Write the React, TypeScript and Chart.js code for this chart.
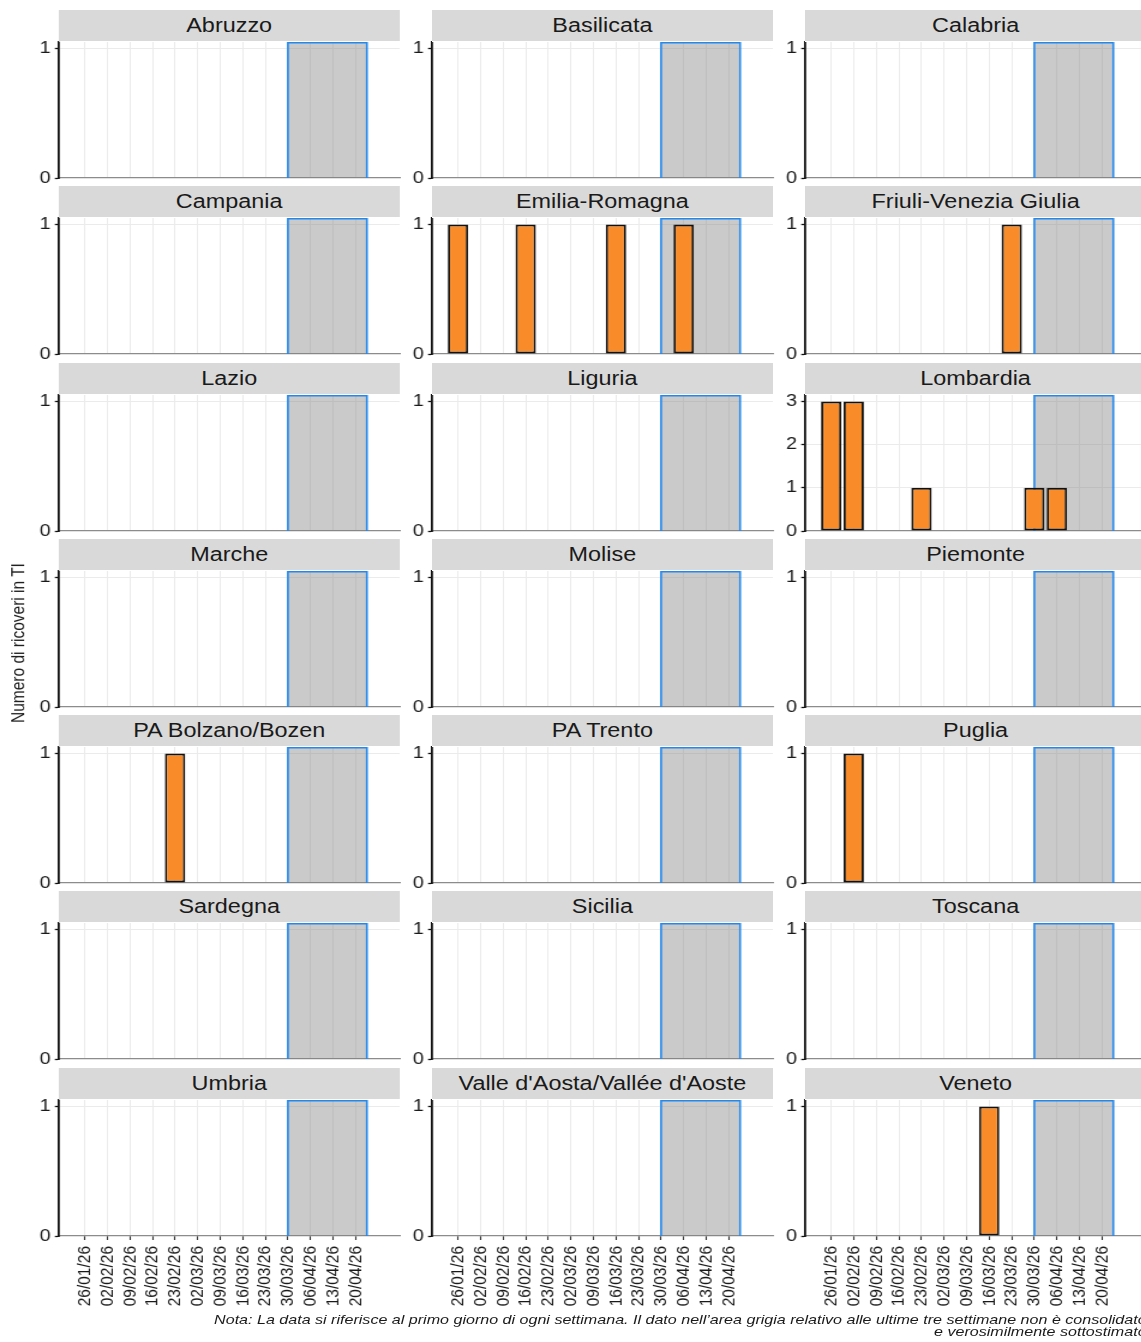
import React, { useEffect, useRef } from 'react';
import { Chart, registerables } from 'chart.js';

Chart.register(...registerables);

// ---------------- data ----------------
const weekLabels = [
  '26/01/26', '02/02/26', '09/02/26', '16/02/26', '23/02/26', '02/03/26', '09/03/26',
  '16/03/26', '23/03/26', '30/03/26', '06/04/26', '13/04/26', '20/04/26',
];

const regionNames = [
  'Abruzzo', 'Basilicata', 'Calabria',
  'Campania', 'Emilia-Romagna', 'Friuli-Venezia Giulia',
  'Lazio', 'Liguria', 'Lombardia',
  'Marche', 'Molise', 'Piemonte',
  'PA Bolzano/Bozen', 'PA Trento', 'Puglia',
  'Sardegna', 'Sicilia', 'Toscana',
  'Umbria', "Valle d'Aosta/Vallée d'Aoste", 'Veneto',
];

const abruzzo = [0, 0, 0, 0, 0, 0, 0, 0, 0, 0, 0, 0, 0];
const basilicata = [0, 0, 0, 0, 0, 0, 0, 0, 0, 0, 0, 0, 0];
const calabria = [0, 0, 0, 0, 0, 0, 0, 0, 0, 0, 0, 0, 0];
const campania = [0, 0, 0, 0, 0, 0, 0, 0, 0, 0, 0, 0, 0];
const emiliaRomagna = [1, 0, 0, 1, 0, 0, 0, 1, 0, 0, 1, 0, 0];
const friuliVeneziaGiulia = [0, 0, 0, 0, 0, 0, 0, 0, 1, 0, 0, 0, 0];
const lazio = [0, 0, 0, 0, 0, 0, 0, 0, 0, 0, 0, 0, 0];
const liguria = [0, 0, 0, 0, 0, 0, 0, 0, 0, 0, 0, 0, 0];
const lombardia = [3, 3, 0, 0, 1, 0, 0, 0, 0, 1, 1, 0, 0];
const marche = [0, 0, 0, 0, 0, 0, 0, 0, 0, 0, 0, 0, 0];
const molise = [0, 0, 0, 0, 0, 0, 0, 0, 0, 0, 0, 0, 0];
const piemonte = [0, 0, 0, 0, 0, 0, 0, 0, 0, 0, 0, 0, 0];
const paBolzano = [0, 0, 0, 0, 1, 0, 0, 0, 0, 0, 0, 0, 0];
const paTrento = [0, 0, 0, 0, 0, 0, 0, 0, 0, 0, 0, 0, 0];
const puglia = [0, 1, 0, 0, 0, 0, 0, 0, 0, 0, 0, 0, 0];
const sardegna = [0, 0, 0, 0, 0, 0, 0, 0, 0, 0, 0, 0, 0];
const sicilia = [0, 0, 0, 0, 0, 0, 0, 0, 0, 0, 0, 0, 0];
const toscana = [0, 0, 0, 0, 0, 0, 0, 0, 0, 0, 0, 0, 0];
const umbria = [0, 0, 0, 0, 0, 0, 0, 0, 0, 0, 0, 0, 0];
const valleDAosta = [0, 0, 0, 0, 0, 0, 0, 0, 0, 0, 0, 0, 0];
const veneto = [0, 0, 0, 0, 0, 0, 0, 1, 0, 0, 0, 0, 0];

const regionSeries = [
  abruzzo, basilicata, calabria,
  campania, emiliaRomagna, friuliVeneziaGiulia,
  lazio, liguria, lombardia,
  marche, molise, piemonte,
  paBolzano, paTrento, puglia,
  sardegna, sicilia, toscana,
  umbria, valleDAosta, veneto,
];

// shaded (not consolidated) period, in week units: from 30/03/26 to half a week after 20/04/26
const shadeFromWeek = 9;
const shadeToWeek = 12.5;
const xAxisMin = -1.15;
const xAxisMax = 13.95;

const yTitle = 'Numero di ricoveri in TI';
const captionLines = [
  'Nota: La data si riferisce al primo giorno di ogni settimana. Il dato nell’area grigia relativo alle ultime tre settimane non è consolidato',
  'e verosimilmente sottostimato',
];

// ---------------- layout / style ----------------
const STRETCH = 1.2;
const PAGE_W = 1141;
const PAGE_H = 1342;
const COL_X = [49, 360, 671];
const PANEL_W = 284;
const PANEL_H = 136;
const ROW_PITCH = 176.25;
const FIRST_TOP = 42;
const STRIP_H = 31;
const STRIP_GAP = 32;
const AXIS_W = 40;
const PAD_TOP = 18;
const PAD_RIGHT = 2;
const FONT = '"Liberation Sans", Arial, Helvetica, sans-serif';

const ORANGE = '#F98C28';
const BAR_BORDER = '#111111';
const SHADE_FILL = 'rgba(128,128,128,0.42)';
const SHADE_BORDER = '#2288EE';
const GRID = '#EBEBEB';
const TEXT = '#1A1A1A';

Chart.defaults.font.family = FONT;

const shadePlugin = {
  id: 'shadeArea',
  beforeDatasetsDraw(chart: any) {
    const { ctx, chartArea, scales } = chart;
    const x0 = scales.x.getPixelForValue(shadeFromWeek);
    const x1 = scales.x.getPixelForValue(shadeToWeek);
    const top = chartArea.top;
    const bottom = chartArea.bottom;
    ctx.save();
    ctx.fillStyle = SHADE_FILL;
    ctx.fillRect(x0, top, x1 - x0, bottom - top);
    ctx.strokeStyle = SHADE_BORDER;
    ctx.lineWidth = 1.6;
    ctx.beginPath();
    ctx.moveTo(x0, bottom);
    ctx.lineTo(x0, top + 0.8);
    ctx.lineTo(x1, top + 0.8);
    ctx.lineTo(x1, bottom);
    ctx.stroke();
    ctx.restore();
  },
};

type PanelProps = { index: number; isBottom: boolean };

function Panel({ index, isBottom }: PanelProps) {
  const ref = useRef<HTMLCanvasElement>(null);
  const col = index % 3;
  const row = Math.floor(index / 3);
  const plotTop = Math.round(FIRST_TOP + row * ROW_PITCH);
  const bottomExtra = isBottom ? 80 : 18;
  const width = AXIS_W + PANEL_W + PAD_RIGHT;
  const height = PAD_TOP + PANEL_H + bottomExtra;
  const left = COL_X[col] - AXIS_W;
  const top = plotTop - PAD_TOP;

  useEffect(() => {
    const values = regionSeries[index];
    const maxVal = Math.max(1, ...values);
    const points = values
      .map((v, i) => ({ x: i, y: v }))
      .filter((p) => p.y > 0);
    const yTicks: number[] = [];
    for (let v = 0; v <= maxVal; v++) yTicks.push(v);

    const chart = new Chart(ref.current as HTMLCanvasElement, {
      type: 'bar',
      data: {
        datasets: [
          {
            data: points as any,
            backgroundColor: ORANGE,
            borderColor: BAR_BORDER,
            borderWidth: 1.9,
            borderSkipped: false,
            barPercentage: 0.9,
            categoryPercentage: 1,
          },
        ],
      },
      options: {
        responsive: false,
        animation: false,
        devicePixelRatio: 1,
        layout: { padding: { top: PAD_TOP, right: PAD_RIGHT, left: 0, bottom: 0 } },
        plugins: {
          legend: { display: false },
          tooltip: { enabled: false },
        },
        scales: {
          x: {
            type: 'linear',
            min: xAxisMin,
            max: xAxisMax,
            offset: false,
            afterBuildTicks: (s: any) => {
              s.ticks = weekLabels.map((_, i) => ({ value: i }));
            },
            afterFit: (s: any) => {
              s.height = bottomExtra;
            },
            grid: {
              offset: false,
              color: GRID,
              lineWidth: 1,
              drawTicks: isBottom,
              tickLength: 4,
              tickColor: '#333333',
              tickWidth: 1.1,
            },
            border: { display: true, color: '#8C8C8C', width: 1.2 },
            ticks: {
              display: isBottom,
              autoSkip: false,
              minRotation: 90,
              maxRotation: 90,
              padding: 6,
              color: TEXT,
              font: { size: 15.5, family: FONT },
              callback: (v: any) => weekLabels[v as number] ?? '',
            },
          },
          y: {
            type: 'linear',
            min: 0,
            max: maxVal * 1.05,
            afterBuildTicks: (s: any) => {
              s.ticks = yTicks.map((v) => ({ value: v }));
            },
            afterFit: (s: any) => {
              s.width = AXIS_W;
            },
            grid: {
              color: (c: any) => (c.tick && c.tick.value === 0 ? 'rgba(0,0,0,0)' : GRID),
              lineWidth: 1,
              drawTicks: true,
              tickLength: 3.3,
              tickColor: '#111111',
              tickWidth: 1.3,
            },
            border: { display: true, color: '#111111', width: 1.8 },
            ticks: {
              padding: 3.5,
              color: TEXT,
              font: { size: 16.5, family: FONT },
              callback: (v: any) => String(v),
            },
          },
        },
      } as any,
      plugins: [shadePlugin],
    });
    return () => chart.destroy();
  }, [index, bottomExtra]);

  return (
    <>
      <canvas
        ref={ref}
        width={width}
        height={height}
        style={{ position: 'absolute', left, top, width, height }}
      />
      <div
        style={{
          position: 'absolute',
          left: COL_X[col],
          top: plotTop - STRIP_GAP,
          width: PANEL_W,
          height: STRIP_H,
          background: '#D9D9D9',
          color: TEXT,
          font: `19.5px ${FONT}`,
          lineHeight: `${STRIP_H}px`,
          textAlign: 'center',
          whiteSpace: 'nowrap',
        }}
      >
        {regionNames[index]}
      </div>
    </>
  );
}

export default function App() {
  const rows = Math.ceil(regionNames.length / 3);
  return (
    <div
      style={{
        position: 'fixed',
        left: 0,
        top: 0,
        width: PAGE_W,
        height: PAGE_H,
        overflow: 'hidden',
        background: '#FFFFFF',
      }}
    >
      <div
        style={{
          position: 'absolute',
          left: 0,
          top: 0,
          width: PAGE_W / STRETCH + 10,
          height: PAGE_H,
          transform: `scaleX(${STRETCH})`,
          transformOrigin: '0 0',
        }}
      >
        {regionNames.map((_, i) => (
          <Panel key={i} index={i} isBottom={Math.floor(i / 3) === rows - 1} />
        ))}
        <div
          style={{
            position: 'absolute',
            left: 15,
            top: 643,
            transform: 'translate(-50%, -50%) rotate(-90deg)',
            whiteSpace: 'nowrap',
            font: `15.5px ${FONT}`,
            color: TEXT,
          }}
        >
          {yTitle}
        </div>
        <div
          style={{
            position: 'absolute',
            left: 0,
            top: 1313.5,
            width: 955.5,
            textAlign: 'right',
            font: `italic 13.4px ${FONT}`,
            lineHeight: '12.5px',
            color: TEXT,
            whiteSpace: 'nowrap',
          }}
        >
          {captionLines.map((l, i) => (
            <div key={i}>{l}</div>
          ))}
        </div>
      </div>
    </div>
  );
}
